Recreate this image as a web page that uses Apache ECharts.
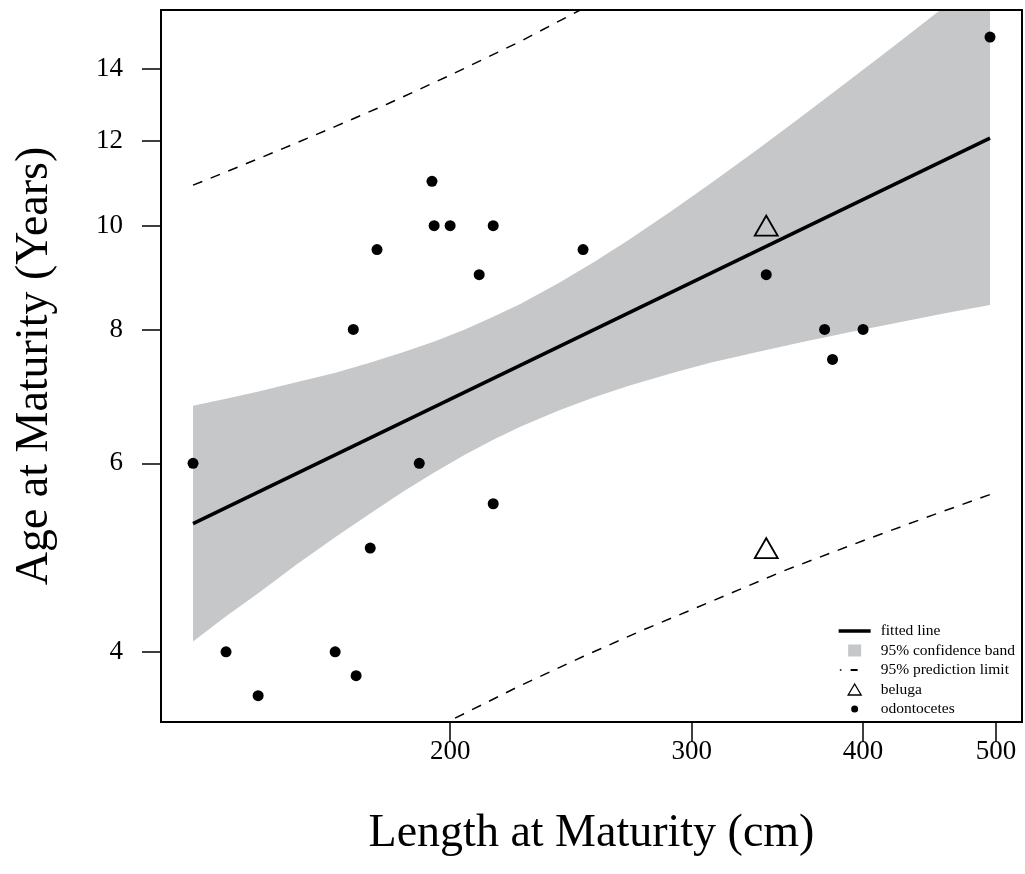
<!DOCTYPE html>
<html>
<head>
<meta charset="utf-8">
<script src="https://cdn.jsdelivr.net/npm/echarts@6.0.0/dist/echarts.min.js"></script>
<style>
html, body { margin: 0; padding: 0; background: #fff; }
#chart { width: 1025px; height: 874px; }
</style>
</head>
<body>
<div id="chart"></div>
<script>
var chartDom = document.getElementById('chart');
var myChart = echarts.init(chartDom);

// tick positions (data units, log scales on both axes)
const xTicks = [200, 300, 400, 500];
const yTicks = [4, 6, 8, 10, 12, 14];

// odontocetes (filled dots)
const odontLength = [129.9, 137.3, 144.9, 164.9, 170.8, 170.0, 174.9, 176.9, 189.9, 194.0, 194.7,
    200, 210, 215, 215, 250, 340, 375, 380, 400, 495];
const odontAge = [6, 4, 3.64, 4, 3.8, 8, 5, 9.5, 6, 11, 10,
    10, 9, 10, 5.5, 9.5, 9, 8, 7.5, 8, 15];

// beluga (open triangles)
const belugaLength = [340, 340];
const belugaAge = [10, 5];

// fitted line
const fitLength = [129.9, 495];
const fitAge = [5.27, 12.07];

// 95% confidence band
const bandLength = [129.9, 137, 145, 155, 165, 175, 185, 195, 205, 215, 225,
    240, 255, 270, 290, 310, 335, 360, 390, 420, 460, 495];
const bandUpper = [6.79, 6.89, 7.00, 7.15, 7.29, 7.45, 7.62, 7.80, 8.00, 8.22, 8.45,
    8.84, 9.26, 9.70, 10.32, 10.96, 11.78, 12.62, 13.64, 14.67, 16.06, 17.28];
const bandLower = [4.09, 4.31, 4.54, 4.84, 5.12, 5.39, 5.65, 5.89, 6.11, 6.31, 6.49,
    6.72, 6.92, 7.09, 7.28, 7.45, 7.62, 7.78, 7.95, 8.10, 8.29, 8.43];

// 95% prediction limits
const predUpLength = [129.9, 140, 150, 165, 180, 200, 225, 250, 275];
const predUp = [10.91, 11.34, 11.76, 12.38, 12.99, 13.82, 14.86, 15.95, 17.0];
const predLoLength = [180, 200, 225, 250, 275, 300, 350, 400, 450, 495];
const predLo = [3.22, 3.45, 3.72, 3.96, 4.18, 4.38, 4.76, 5.08, 5.37, 5.61];

const lg = Math.log10;
const pairs = (xs, ys) => xs.map((x, i) => [lg(x), lg(ys[i])]);
const fmt = v => String(Math.round(Math.pow(10, v)));

const serif = 'Liberation Serif';
const bandColor = '#c6c7c9';

const bandRows = bandLength.map((x, i) => [lg(x), lg(bandLower[i]), lg(bandUpper[i])]);

var option = {
    backgroundColor: '#fff',
    animation: false,
    grid: {
        left: 161, right: 3, top: 10, bottom: 152,
        show: true, borderColor: '#000', borderWidth: 2,
        containLabel: false, outerBoundsMode: 'none'
    },
    legend: {
        orient: 'vertical',
        left: 838, top: 623,
        padding: 0,
        itemWidth: 32, itemHeight: 12, itemGap: 3.5,
        selectedMode: false,
        textStyle: { fontFamily: serif, fontSize: 15.5, color: '#000', padding: [0, 0, 0, 5] },
        data: [
            { name: 'fitted line', icon: 'path://M0,0M32,12M0,4.3h32v3.4h-32z',
              itemStyle: { color: '#000', borderWidth: 0 } },
            { name: '95% confidence band', icon: 'path://M0,0M32,12M9.5,0h13v12h-13z',
              itemStyle: { color: bandColor, borderWidth: 0 } },
            { name: '95% prediction limit', icon: 'path://M0,0M32,12M1.2,5.2h1.6v1.6h-1.6zM12,5.1h7v1.8h-7z',
              itemStyle: { color: '#000', borderWidth: 0 } },
            { name: 'beluga', icon: 'path://M0,0M32,12M16,0.5L22.5,11.5L9.5,11.5Z',
              itemStyle: { color: 'rgba(0,0,0,0)', borderColor: '#000', borderWidth: 1.3 } },
            { name: 'odontocetes', icon: 'path://M0,0M32,12M12.5,6a3.5,3.5 0 1,0 7,0a3.5,3.5 0 1,0 -7,0z',
              itemStyle: { color: '#000', borderWidth: 0 } }
        ]
    },
    xAxis: {
        type: 'value',
        min: lg(123.1), max: lg(522.3),
        splitLine: { show: false },
        axisLine: { show: true, lineStyle: { color: '#000', width: 2 } },
        axisTick: { show: true, length: 20, lineStyle: { color: '#000', width: 1.5 },
            customValues: xTicks.map(lg) },
        axisLabel: { customValues: xTicks.map(lg), formatter: fmt, margin: 16,
            fontSize: 27, fontFamily: serif, color: '#000' },
        name: 'Length at Maturity (cm)',
        nameLocation: 'middle', nameGap: 89,
        nameTextStyle: { fontSize: 46, fontFamily: serif, color: '#000' }
    },
    yAxis: {
        type: 'value',
        min: lg(3.44), max: lg(15.90),
        splitLine: { show: false },
        axisLine: { show: true, lineStyle: { color: '#000', width: 2 } },
        axisTick: { show: true, length: 19, lineStyle: { color: '#000', width: 1.5 },
            customValues: yTicks.map(lg) },
        axisLabel: { customValues: yTicks.map(lg), formatter: fmt, margin: 38,
            fontSize: 27, fontFamily: serif, color: '#000' },
        name: 'Age at Maturity (Years)',
        nameLocation: 'middle', nameGap: 103, nameRotate: 90,
        nameTextStyle: { fontSize: 46, fontFamily: serif, color: '#000' }
    },
    series: [
        {
            name: '95% confidence band',
            type: 'custom',
            itemStyle: { color: bandColor },
            data: bandRows,
            encode: { x: 0, y: [1, 2] },
            renderItem: function (params, api) {
                if (params.dataIndex !== 0) return null;
                const upper = bandRows.map(r => api.coord([r[0], r[2]]));
                const lower = bandRows.map(r => api.coord([r[0], r[1]])).reverse();
                const cs = params.coordSys;
                return {
                    type: 'polygon',
                    shape: { points: upper.concat(lower) },
                    style: { fill: bandColor },
                    clipPath: { type: 'rect', shape: { x: cs.x, y: cs.y + 1, width: cs.width, height: cs.height - 1 } }
                };
            }
        },
        {
            name: 'fitted line',
            type: 'line',
            data: pairs(fitLength, fitAge),
            symbol: 'none',
            color: '#000',
            lineStyle: { color: '#000', width: 3.5 }
        },
        {
            name: '95% prediction limit',
            type: 'line',
            data: pairs(predUpLength, predUp),
            symbol: 'none',
            color: '#000',
            lineStyle: { color: '#000', width: 1.5, type: [10, 9] }
        },
        {
            name: '95% prediction limit',
            type: 'line',
            data: pairs(predLoLength, predLo),
            symbol: 'none',
            color: '#000',
            lineStyle: { color: '#000', width: 1.5, type: [10, 9] }
        },
        {
            name: 'beluga',
            type: 'scatter',
            data: pairs(belugaLength, belugaAge),
            symbol: 'triangle',
            symbolSize: [23, 20],
            itemStyle: { color: 'rgba(0,0,0,0)', borderColor: '#000', borderWidth: 1.8, opacity: 1 }
        },
        {
            name: 'odontocetes',
            type: 'scatter',
            data: pairs(odontLength, odontAge),
            symbol: 'circle',
            symbolSize: 11,
            itemStyle: { color: '#000', opacity: 1 }
        }
    ]
};

option && myChart.setOption(option);
</script>
</body>
</html>
